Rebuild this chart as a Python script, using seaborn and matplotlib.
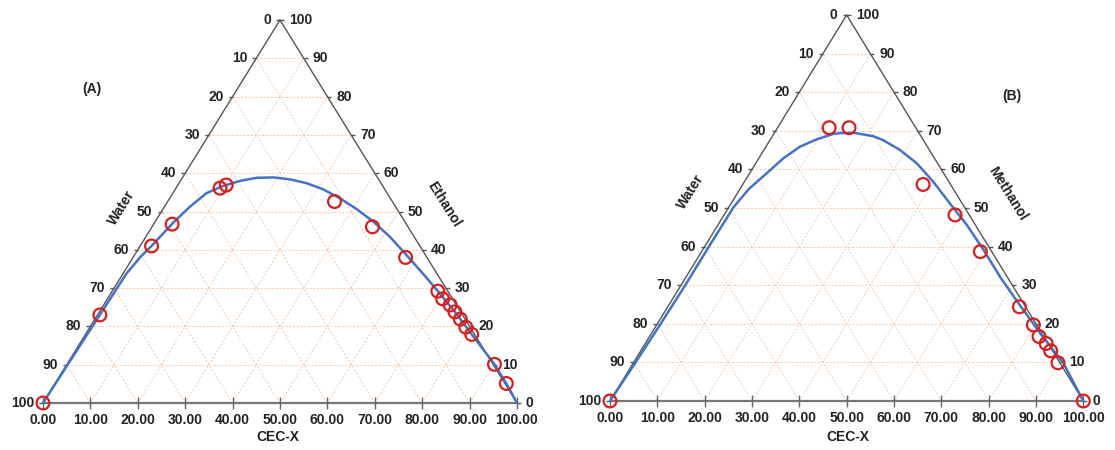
import numpy as np
import pandas as pd
import matplotlib
matplotlib.use("Agg")
import matplotlib.pyplot as plt
import seaborn as sns

sns.set_theme(style="white")
plt.rcParams["font.family"] = ["Liberation Sans", "DejaVu Sans"]
plt.rcParams["font.weight"] = "bold"

# ---------------- data (mass %) ----------------
# Panel A: CEC-X / Ethanol / Water
a_cecx    = [0.0, 0.5, 2.4, 3.9, 9.3, 10.2, 35.2, 46.5, 57.5, 68.7, 70.7, 73.1, 75.0, 77.1, 79.3, 81.5, 90.2, 95.2]
a_ethanol = [0.0, 23.0, 41.0, 46.7, 56.1, 56.9, 52.6, 46.0, 38.0, 29.2, 27.2, 25.6, 23.8, 21.9, 19.8, 17.9, 10.1, 5.1]
a_water   = [round(100 - c - e, 1) for c, e in zip(a_cecx, a_ethanol)]

# binodal curve A
a_curve_cecx    = [0.0, 0.2, 0.5, 0.7, 1.5, 2.4, 3.9, 5.4, 7.1, 9.7, 12.6, 15.7, 19.2, 22.9, 26.9, 31.2, 36.0, 40.9, 46.1, 51.6, 57.4, 63.0, 68.7, 75.0, 81.5, 90.2, 95.2, 100.0]
a_curve_ethanol = [0.0, 10.2, 23.0, 33.8, 38.2, 41.0, 47.0, 51.3, 54.8, 56.7, 58.0, 58.8, 58.9, 58.4, 57.4, 55.8, 53.4, 50.6, 47.3, 43.3, 38.6, 34.0, 29.2, 23.8, 17.9, 10.1, 5.1, 0.0]

# Panel B: CEC-X / Methanol / Water
b_cecx     = [0.0, 10.9, 15.1, 38.1, 48.8, 58.9, 74.3, 79.6, 82.3, 84.7, 86.6, 89.7, 100.0]
b_methanol = [0.0, 70.8, 70.8, 56.1, 48.2, 38.7, 24.4, 19.7, 16.7, 14.9, 13.0, 9.9, 0.0]
b_water    = [round(100 - c - e, 1) for c, e in zip(b_cecx, b_methanol)]

b_curve_cecx     = [0.0, 0.4, 0.7, 0.9, 0.9, 1.0, 1.9, 3.6, 5.2, 7.2, 9.8, 12.6, 13.9, 16.7, 19.8, 21.3, 23.9, 28.8, 34.0, 39.9, 46.2, 52.6, 59.4, 66.5, 74.1, 82.5, 90.9, 100.0]
b_curve_methanol = [0.0, 10.0, 20.0, 30.0, 40.0, 50.3, 55.0, 59.0, 62.9, 65.9, 67.8, 69.2, 69.4, 69.5, 68.9, 68.6, 67.6, 65.0, 61.6, 56.8, 51.2, 45.6, 39.1, 32.0, 24.9, 17.2, 9.8, 0.0]

tick_values = [0, 10, 20, 30, 40, 50, 60, 70, 80, 90, 100]
bottom_labels = [f"{v:.2f}" for v in tick_values]

# ---------------- figure ----------------
W, H = 1115, 450
fig = plt.figure(figsize=(W / 100, H / 100), dpi=100)
fig.patch.set_facecolor("white")

GRID_C = "#F6C4A2"
EDGE_C = "#555555"
TXT_C = "#222222"
RED = "#D42020"
BLUE = "#4472C4"


def to_xy(c, e):
    c = np.asarray(c, float)
    e = np.asarray(e, float)
    return c + e / 2.0, e


def make_panel(rect, cecx, top, curve_c, curve_t, top_name, panel_label, label_xy, names_xy):
    ax = fig.add_axes(rect)
    ax.set_xlim(0, 100)
    ax.set_ylim(0, 100)
    ax.axis("off")

    gkw = dict(color=GRID_C, lw=0.6, ls=(0, (2.5, 2)), zorder=1)
    for v in range(10, 100, 10):
        x0, y0 = to_xy(0, v); x1, y1 = to_xy(100 - v, v)
        ax.plot([x0, x1], [y0, y1], **gkw)
        x0, y0 = to_xy(v, 0); x1, y1 = to_xy(v, 100 - v)
        ax.plot([x0, x1], [y0, y1], **gkw)
        x0, y0 = to_xy(100 - v, 0); x1, y1 = to_xy(0, 100 - v)
        ax.plot([x0, x1], [y0, y1], **gkw)

    # triangle frame
    ax.plot([0, 50], [0, 100], color=EDGE_C, lw=1.0, zorder=2, clip_on=False)
    ax.plot([50, 100], [100, 0], color=EDGE_C, lw=1.0, zorder=2, clip_on=False)
    ax.plot([0, 100], [0, 0], color="#777777", lw=1.6, zorder=2, clip_on=False)

    # ticks
    tv = np.array(tick_values, float)
    bx, by = to_xy(tv, 0 * tv)
    ax.plot(bx, by, ls="none", marker="|", ms=8, mew=1.0, color="#666666", clip_on=False, zorder=2)
    lx, ly = to_xy(0 * tv, tv)
    ax.plot(lx, ly, ls="none", marker=0, ms=3, mew=1.0, color=EDGE_C, clip_on=False, zorder=2)
    rx, ry = to_xy(100 - tv, tv)
    ax.plot(rx, ry, ls="none", marker=1, ms=3, mew=1.0, color=EDGE_C, clip_on=False, zorder=2)

    fs = 10
    for v, lab in zip(tick_values, bottom_labels):
        x, y = to_xy(v, 0)
        ax.annotate(lab, (x, y), xytext=(0, -17), textcoords="offset pixels",
                    ha="center", va="center", fontsize=fs, fontweight="bold", color=TXT_C)
    for v in tick_values:
        x, y = to_xy(0, v)
        ax.annotate(str(100 - v), (x, y), xytext=(-9, 0), textcoords="offset pixels",
                    ha="right", va="center", fontsize=fs, fontweight="bold", color=TXT_C)
        x, y = to_xy(100 - v, v)
        ax.annotate(str(v), (x, y), xytext=(9, 0), textcoords="offset pixels",
                    ha="left", va="center", fontsize=fs, fontweight="bold", color=TXT_C)

    # curve + points through seaborn
    cx, cy = to_xy(curve_c, curve_t)
    sns.lineplot(x=cx, y=cy, sort=False, ax=ax, color=BLUE, lw=1.8, zorder=3, estimator=None)
    px, py = to_xy(cecx, top)
    sns.scatterplot(x=px, y=py, ax=ax, marker="o", s=85, facecolor="none",
                    edgecolor=RED, linewidth=1.6, zorder=4, clip_on=False)
    for coll in ax.collections:
        coll.set_clip_on(False)
    for ln in ax.lines:
        ln.set_clip_on(False)

    fig.text(names_xy[0][0] / W, 1 - names_xy[0][1] / H, "Water", rotation=58,
             ha="center", va="center", fontsize=fs, fontweight="bold", color=TXT_C)
    fig.text(names_xy[1][0] / W, 1 - names_xy[1][1] / H, top_name, rotation=-58,
             ha="center", va="center", fontsize=fs, fontweight="bold", color=TXT_C)
    fig.text(names_xy[2][0] / W, 1 - names_xy[2][1] / H, "CEC-X",
             ha="center", va="center", fontsize=fs, fontweight="bold", color=TXT_C)
    fig.text(label_xy[0] / W, 1 - label_xy[1] / H, panel_label,
             ha="center", va="center", fontsize=fs, fontweight="bold", color=TXT_C)
    return ax


make_panel([43 / W, (H - 403) / H, 474 / W, 383 / H], a_cecx, a_ethanol,
           a_curve_cecx, a_curve_ethanol, "Ethanol", "(A)", (92, 89),
           [(122, 208), (444, 204), (278, 437)])
make_panel([610 / W, (H - 401) / H, 473.3 / W, 386 / H], b_cecx, b_methanol,
           b_curve_cecx, b_curve_methanol, "Methanol", "(B)", (1012, 96),
           [(691, 192), (1008, 194), (848, 437)])

fig.savefig("out.png", dpi=100, facecolor="white")
